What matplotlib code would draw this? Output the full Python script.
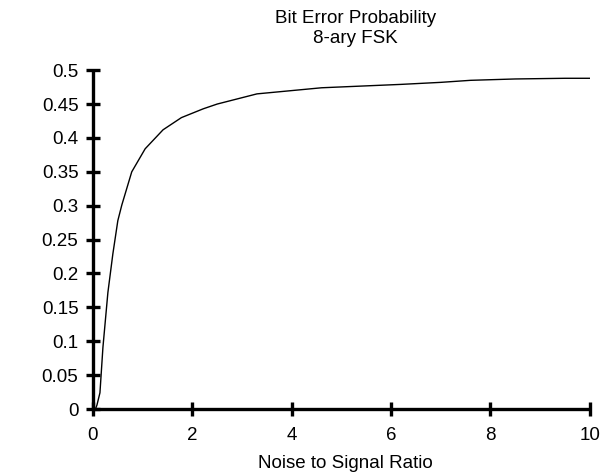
import matplotlib
matplotlib.use("Agg")
import matplotlib.pyplot as plt
from matplotlib.transforms import Bbox, TransformedBbox

plt.rcParams["font.family"] = ["Liberation Sans", "DejaVu Sans"]

# noise-to-signal ratio vs. bit error probability
nsr = [0.05, 0.08, 0.14, 0.2, 0.3, 0.4, 0.5, 0.58, 0.78, 1.05,
       1.41, 1.78, 2.22, 2.5, 3.3, 4.6, 6.2, 7.0, 7.6, 8.5, 9.5, 10.0]
p_bit = [0.0, 0.006, 0.024, 0.091, 0.172, 0.229, 0.278, 0.301,
         0.35, 0.384, 0.412, 0.43, 0.443, 0.45, 0.465, 0.474, 0.479,
         0.482, 0.485, 0.487, 0.488, 0.488]

x_ticks = [0, 2, 4, 6, 8, 10]
y_ticks = [0, 0.05, 0.1, 0.15, 0.2, 0.25, 0.3, 0.35, 0.4, 0.45, 0.5]

FS = 13.5

fig = plt.figure(figsize=(6.05, 4.74), dpi=100)
ax = fig.add_axes([0.1537, 0.137, 0.8213, 0.715])

ax.plot(nsr, p_bit, color="black", linewidth=1.0)

ax.set_xlim(0, 10)
ax.set_ylim(0, 0.5)
ax.set_xticks(x_ticks)
ax.set_yticks(y_ticks)
ax.set_yticklabels([f"{v:g}" for v in y_ticks])

for side in ("top", "right"):
    ax.spines[side].set_visible(False)
for side in ("left", "bottom"):
    ax.spines[side].set_linewidth(2.4)
    ax.spines[side].set_capstyle("butt")

ax.tick_params(direction="inout", length=10, width=2.4, labelsize=FS)
ax.tick_params(axis="x", pad=8)
ax.tick_params(axis="y", pad=5.5)

# two-line title, centred a bit right of the axes centre like the original
fig.text(0.587, 0.9506, "Bit Error Probability", fontsize=FS,
         ha="center", va="baseline")
fig.text(0.587, 0.9084, "8-ary FSK", fontsize=FS, ha="center", va="baseline")

xl = fig.text(0.5702, 0.0127, "Noise to Signal Ratio", fontsize=FS,
              ha="center", va="baseline")
# the original label is cut off at its right end
xl.set_clip_box(TransformedBbox(Bbox([[0, 0], [433 / 605, 1]]), fig.transFigure))
xl.set_clip_on(True)

fig.savefig("out.png", dpi=100)
